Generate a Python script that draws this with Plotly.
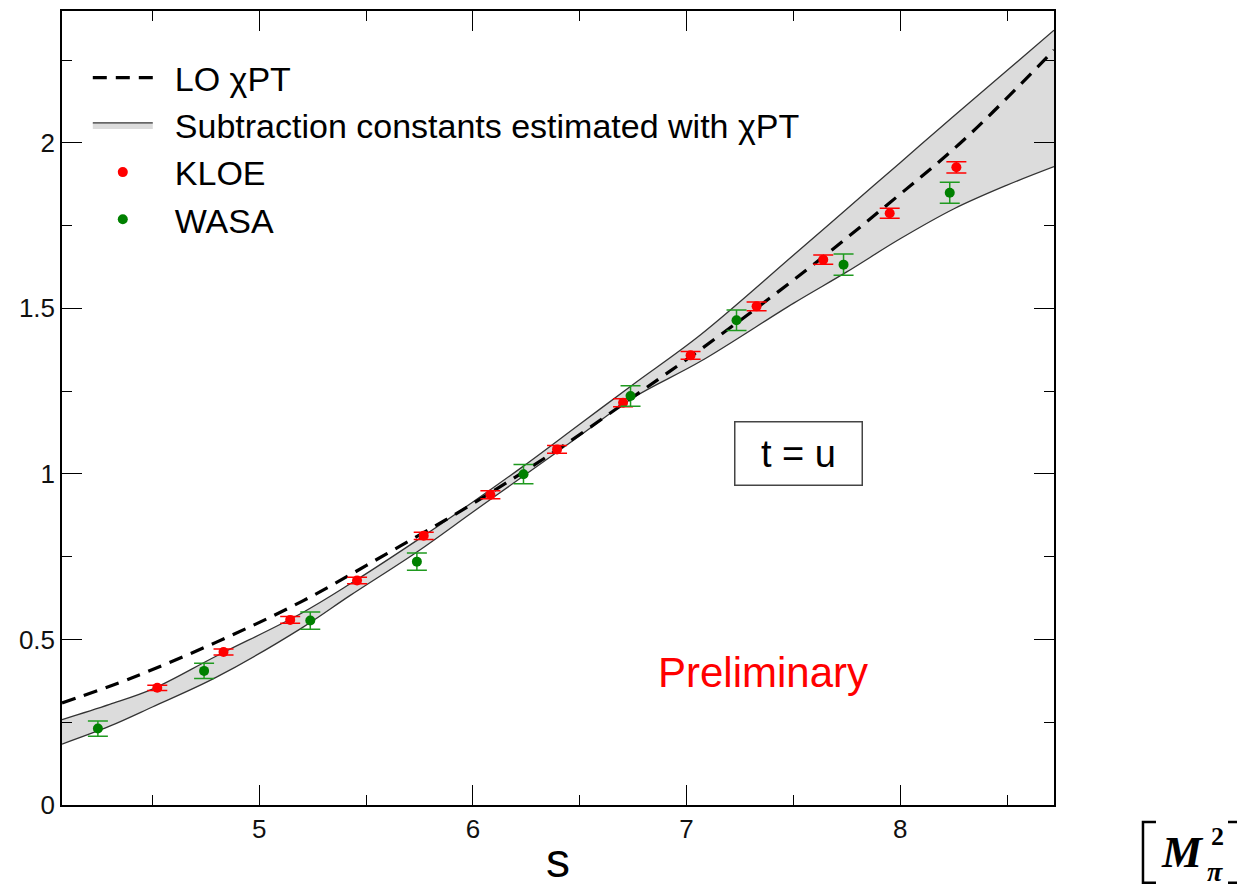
import plotly.graph_objects as go

# ---------------- data ----------------
kloe_s = [4.523, 4.833, 5.145, 5.458, 5.770, 6.082, 6.394, 6.703, 7.019, 7.328, 7.640, 7.951, 8.263]
kloe_y = [0.354, 0.462, 0.559, 0.678, 0.813, 0.937, 1.074, 1.215, 1.358, 1.506, 1.647, 1.787, 1.926]
kloe_err = [0.008, 0.009, 0.010, 0.010, 0.011, 0.012, 0.012, 0.012, 0.012, 0.013, 0.014, 0.015, 0.017]

wasa_s = [4.245, 4.742, 5.239, 5.738, 6.237, 6.738, 7.234, 7.735, 8.232]
wasa_y = [0.231, 0.405, 0.557, 0.735, 0.999, 1.235, 1.464, 1.632, 1.849]
wasa_err = [0.023, 0.023, 0.026, 0.026, 0.029, 0.031, 0.031, 0.032, 0.032]

lo_s = [4.077, 4.4, 4.8, 5.2, 5.6, 6.0, 6.4, 6.8, 7.066, 7.534, 7.94, 8.3, 8.72]
lo_y = [0.308, 0.383, 0.492, 0.615, 0.760, 0.910, 1.075, 1.255, 1.376, 1.602, 1.813, 2.01, 2.28]

band_s = [4.077, 4.3, 4.5, 4.8, 5.2, 5.426, 5.74, 6.0, 6.24, 6.5, 6.75, 7.066, 7.5, 7.75, 8.0, 8.25, 8.5, 8.72]
band_upper = [0.258, 0.304, 0.350, 0.450, 0.580, 0.668, 0.800, 0.915, 1.025, 1.150, 1.270, 1.420, 1.660, 1.800, 1.940, 2.080, 2.218, 2.340]
band_lower = [0.184, 0.238, 0.296, 0.386, 0.535, 0.633, 0.765, 0.885, 0.995, 1.115, 1.230, 1.340, 1.515, 1.610, 1.710, 1.800, 1.872, 1.928]

x_range = [4.077, 8.72]
y_range = [0.0, 2.398]

FONT = "Liberation Sans, Arial, Helvetica, sans-serif"
SERIF = "Liberation Serif, Times New Roman, serif"
GAP = "\u2002"

fig = go.Figure()

# band: lower edge, then upper edge filled down to it
fig.add_trace(go.Scatter(
    x=band_s, y=band_lower, mode="lines", line_shape="spline",
    line=dict(color="#333333", width=1.3), showlegend=False, hoverinfo="skip",
))
fig.add_trace(go.Scatter(
    x=band_s, y=band_upper, mode="lines", line_shape="spline",
    fill="tonexty", fillcolor="#dcdcdc",
    line=dict(color="#333333", width=1.3),
    name=GAP + "Subtraction constants estimated with χPT",
    legendrank=2,
))

# LO ChPT dashed
fig.add_trace(go.Scatter(
    x=lo_s, y=lo_y, mode="lines", line_shape="spline",
    line=dict(color="black", width=3.2, dash="14px,9px"),
    name=GAP + "LO χPT", legendrank=1,
))

# KLOE
fig.add_trace(go.Scatter(
    x=kloe_s, y=kloe_y, mode="markers",
    marker=dict(color="#ff0000", size=10),
    error_y=dict(type="data", array=kloe_err, color="#ff0000", thickness=1.5, width=10),
    name=GAP + "KLOE", legendrank=3,
))

# WASA
fig.add_trace(go.Scatter(
    x=wasa_s, y=wasa_y, mode="markers",
    marker=dict(color="#008000", size=10),
    error_y=dict(type="data", array=wasa_err, color="#1f9a1f", thickness=1.5, width=10),
    name=GAP + "WASA", legendrank=4,
))

axis_common = dict(
    showline=True, linecolor="black", linewidth=1.5, mirror="allticks",
    ticks="inside", ticklen=20, tickwidth=1.2, tickcolor="black",
    showgrid=False, zeroline=False,
    tickfont=dict(family=FONT, size=26, color="#111111"),
)

fig.update_xaxes(
    range=x_range, tick0=0, dtick=1,
    minor=dict(dtick=0.5, ticks="inside", ticklen=10, tickwidth=1.2, tickcolor="black"),
    title=dict(text="s", font=dict(family=FONT, size=48, color="black"), standoff=0),
    **axis_common,
)
fig.update_yaxes(
    range=y_range, tick0=0, dtick=0.5,
    minor=dict(dtick=0.25, ticks="inside", ticklen=10, tickwidth=1.2, tickcolor="black"),
    **axis_common,
)

fig.update_layout(
    width=1245, height=885,
    margin=dict(l=54, r=199, t=1, b=88),
    paper_bgcolor="white", plot_bgcolor="white",
    showlegend=True,
    legend=dict(
        x=0.026, y=0.952, xanchor="left", yanchor="top",
        traceorder="normal",
        bgcolor="rgba(0,0,0,0)", borderwidth=0,
        font=dict(family=FONT, size=34, color="black"),
        itemwidth=60, tracegroupgap=0,
    ),
    font=dict(family=FONT),
)

# t = u box
fig.add_annotation(
    x=7.525, y=1.063, xref="x", yref="y", text="t = u", showarrow=False,
    xanchor="center", yanchor="middle",
    font=dict(family=FONT, size=38, color="black"),
    bordercolor="#444444", borderwidth=1.5, width=124, height=60, bgcolor="white",
)

# Preliminary
fig.add_annotation(
    x=7.36, y=0.40, xref="x", yref="y", text="Preliminary", showarrow=False,
    xanchor="center", yanchor="middle",
    font=dict(family=FONT, size=42, color="#ff0000"),
)

# unit label [M_pi^2]
fig.add_annotation(x=1.130, y=-0.059, xref="paper", yref="paper", text="<b><i>M</i></b>",
                   xanchor="center", yanchor="middle",
                   showarrow=False, font=dict(family=SERIF, size=45, color="black"))
fig.add_annotation(x=1.165, y=-0.040, xref="paper", yref="paper", text="<b>2</b>",
                   xanchor="center", yanchor="middle",
                   showarrow=False, font=dict(family=SERIF, size=26, color="black"))
fig.add_annotation(x=1.1627, y=-0.084, xref="paper", yref="paper", text="<b><i>π</i></b>",
                   xanchor="center", yanchor="middle",
                   showarrow=False, font=dict(family=SERIF, size=28, color="black"))

yt, yb = -0.0213, -0.0979
fig.add_shape(type="path", xref="paper", yref="paper",
              path=f"M 1.1028 {yt} L 1.0897 {yt} L 1.0897 {yb} L 1.1028 {yb}",
              line=dict(color="black", width=2.5))
fig.add_shape(type="path", xref="paper", yref="paper",
              path=f"M 1.1754 {yt} L 1.1875 {yt} L 1.1875 {yb} L 1.1754 {yb}",
              line=dict(color="black", width=2.5))

fig.write_html("out.html")
